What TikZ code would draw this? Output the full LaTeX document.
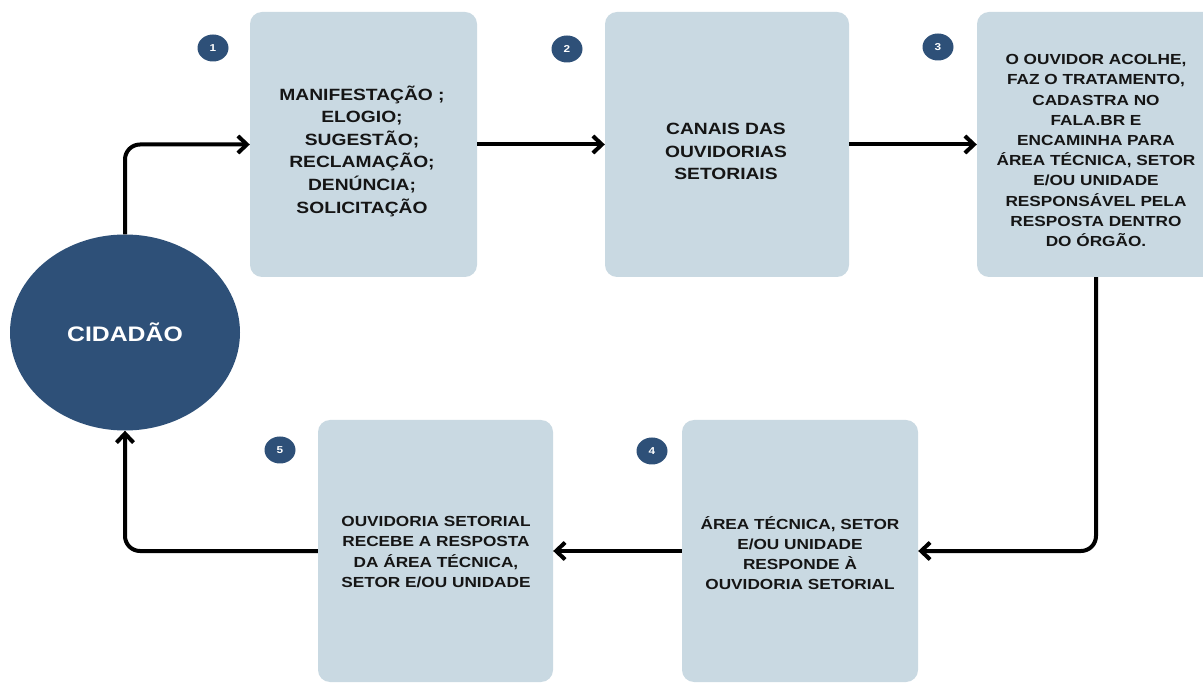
\documentclass[tikz,border=0pt]{standalone}
\usepackage{fontspec}
\setmainfont{Liberation Sans}[FakeStretch=1.18]
\usetikzlibrary{arrows.meta,shapes.geometric}
\definecolor{boxfill}{HTML}{C9D9E2}
\definecolor{darkblue}{HTML}{2E5078}
\definecolor{txt}{HTML}{151515}
\tikzset{
  stepbox/.style={rectangle, rounded corners=12pt, fill=boxfill, draw=none, inner sep=0pt},
  boxtext/.style={align=center, text=txt, inner sep=0pt},
  bigtext/.style={boxtext, font=\bfseries\fontsize{16.3}{22.6}\selectfont},
  smalltext/.style={boxtext, font=\bfseries\fontsize{14.6}{20.2}\selectfont},
  numdot/.style={ellipse, fill=darkblue, minimum width=31pt, minimum height=27pt, inner sep=0pt, text=white, font=\bfseries\fontsize{10}{10}\selectfont},
  flow/.style={line width=4pt, rounded corners=15pt, line join=round, -{Straight Barb[length=9pt,width=17pt,line width=4pt]}},
}
\begin{document}
\begin{tikzpicture}[x=1pt,y=-1pt]
\useasboundingbox (0,0) rectangle (1203,684);
\clip (0,0) rectangle (1203,684);
\fill[white] (0,0) rectangle (1203,684);

\node[ellipse, fill=darkblue, minimum width=230pt, minimum height=196pt, text=white, font=\bfseries\fontsize{21}{24}\selectfont] (cid) at (125,332.5) {CIDADÃO};

\node[stepbox, minimum width=227pt, minimum height=265pt] (b1) at (363.5,144.5) {};
\node[stepbox, minimum width=244pt, minimum height=265pt] (b2) at (727,144.5) {};
\node[stepbox, minimum width=238pt, minimum height=265pt] (b3) at (1096,144.5) {};
\node[stepbox, minimum width=236pt, minimum height=262pt] (b4) at (800,551) {};
\node[stepbox, minimum width=235pt, minimum height=262pt] (b5) at (435.5,551) {};

\node[bigtext] (t1) at (362,151) {MANIFESTAÇÃO ;\\ELOGIO;\\SUGESTÃO;\\RECLAMAÇÃO;\\DENÚNCIA;\\SOLICITAÇÃO};
\node[bigtext] (t2) at (726,151.5) {CANAIS DAS\\OUVIDORIAS\\SETORIAIS};
\node[smalltext] (t3) at (1096,150.5) {O OUVIDOR ACOLHE,\\FAZ O TRATAMENTO,\\CADASTRA NO\\FALA.BR E\\ENCAMINHA PARA\\ÁREA TÉCNICA, SETOR\\E/OU UNIDADE\\RESPONSÁVEL PELA\\RESPOSTA DENTRO\\DO ÓRGÃO.};
\node[smalltext] (t4) at (800,553) {ÁREA TÉCNICA, SETOR\\E/OU UNIDADE\\RESPONDE À\\OUVIDORIA SETORIAL};
\node[smalltext] (t5) at (436,552) {OUVIDORIA SETORIAL\\RECEBE A RESPOSTA\\DA ÁREA TÉCNICA,\\SETOR E/OU UNIDADE};

\node[numdot] (n1) at (213,48) {1};
\node[numdot] (n2) at (567,49) {2};
\node[numdot] (n3) at (938,47) {3};
\node[numdot] (n4) at (652,451) {4};
\node[numdot] (n5) at (280,450) {5};

\draw[flow] (cid.north) |- (b1.west);
\draw[flow] (b1.east) -- (b2.west);
\draw[flow] (b2.east) -- (b3.west);
\draw[flow] (b3.south) |- (b4.east);
\draw[flow] (b4.west) -- (b5.east);
\draw[flow] (b5.west) -| (cid.south);
\end{tikzpicture}
\end{document}
